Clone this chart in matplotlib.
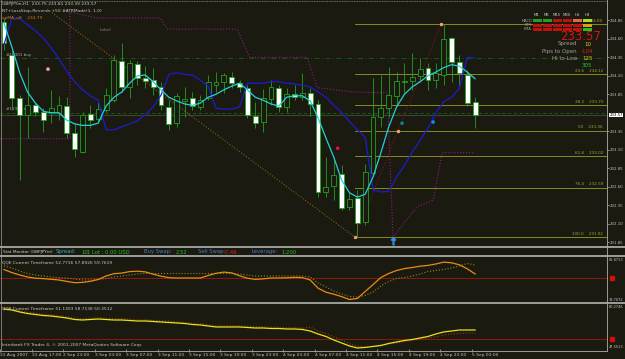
import numpy as np
import matplotlib.pyplot as plt
from matplotlib.lines import Line2D
from matplotlib.patches import Rectangle

# ---- data (GBPJPYm H1) ----
opens = [234.83, 234.38, 233.80, 233.57, 233.71, 233.61, 233.61, 233.60, 233.69, 233.33,
         233.07, 233.58, 233.52, 233.64, 233.77, 234.30, 233.95, 234.26, 234.07, 234.04,
         233.95, 233.68, 233.46, 233.76, 233.80, 233.68, 233.80, 233.98, 234.02, 234.08,
         234.00, 233.94, 233.56, 233.48, 233.79, 233.94, 233.68, 233.85, 233.81, 233.87,
         233.72, 232.53, 232.61, 232.77, 232.33, 232.45, 232.12, 232.79, 233.54, 233.66,
         233.83, 234.01, 234.03, 234.10, 234.21, 234.04, 234.11, 234.61, 234.29, 234.11, 233.75]
highs = [234.88, 234.45, 233.84, 234.22, 233.75, 233.67, 233.91, 233.83, 233.81, 233.46,
         233.61, 233.71, 233.77, 233.94, 234.38, 234.54, 234.31, 234.30, 234.23, 234.21,
         234.02, 233.77, 233.87, 233.95, 233.88, 233.84, 234.11, 234.15, 234.14, 234.15,
         234.04, 233.98, 233.75, 233.92, 234.04, 233.98, 233.94, 233.98, 234.14, 233.94,
         233.77, 233.00, 233.00, 232.89, 232.53, 232.56, 232.91, 234.07, 234.11, 234.22,
         234.15, 234.27, 234.41, 234.34, 234.27, 234.27, 234.80, 234.62, 234.38, 234.18, 233.81]
lows = [234.45, 233.64, 232.69, 233.26, 233.56, 233.34, 233.46, 233.50, 233.26, 233.00,
        233.06, 233.39, 233.48, 233.61, 233.75, 233.88, 233.80, 233.98, 233.94, 233.84,
        233.64, 233.37, 233.41, 233.54, 233.64, 233.64, 233.77, 233.88, 233.87, 233.94,
        233.88, 233.53, 233.39, 233.34, 233.71, 233.61, 233.61, 233.77, 233.77, 233.56,
        232.46, 232.46, 232.42, 232.29, 232.29, 231.92, 232.08, 232.76, 233.41, 233.54,
        233.69, 233.87, 233.91, 234.02, 233.91, 233.94, 233.98, 234.02, 233.98, 233.69, 233.39]
closes = [234.54, 233.80, 233.57, 233.71, 233.61, 233.50, 233.67, 233.71, 233.33, 233.11,
          233.57, 233.50, 233.65, 233.84, 234.31, 233.95, 234.27, 234.07, 234.03, 233.95,
          233.71, 233.45, 233.83, 233.79, 233.69, 233.77, 234.02, 234.02, 234.11, 234.00,
          233.95, 233.57, 233.46, 233.80, 233.95, 233.68, 233.85, 233.81, 233.87, 233.72,
          232.53, 232.60, 232.76, 232.31, 232.43, 232.11, 232.80, 233.54, 233.66, 233.84,
          234.03, 234.03, 234.08, 234.19, 234.04, 234.14, 234.60, 234.29, 234.14, 233.73, 233.57]

cyan_ma = [234.81, 234.49, 234.14, 233.88, 233.73, 233.62, 233.60, 233.60, 233.50, 233.45,
           233.43, 233.43, 233.46, 233.69, 233.81, 233.88, 234.00, 234.10, 234.11, 234.02,
           233.91, 233.81, 233.76, 233.72, 233.70, 233.73, 233.81, 233.85, 233.91, 233.96,
           234.00, 233.91, 233.81, 233.77, 233.72, 233.69, 233.81, 233.83, 233.83, 233.76,
           233.53, 233.26, 233.00, 232.69, 232.52, 232.46, 232.50, 232.73, 233.06, 233.41,
           233.68, 233.85, 233.95, 234.02, 234.10, 234.15, 234.21, 234.25, 234.23, 234.15, 234.06]
blue_ma = [234.52, 234.88, 234.87, 234.79, 234.71, 234.61, 234.48, 234.33, 234.16, 234.02,
           233.91, 233.83, 233.77, 233.37, 233.37, 233.41, 233.45, 233.49, 233.58, 233.68,
           233.84, 234.12, 234.14, 234.12, 234.11, 234.04, 233.96, 233.66, 233.65, 233.65,
           233.68, 234.00, 234.00, 234.00, 234.02, 234.02, 234.00, 233.99, 233.97, 233.95,
           233.88, 233.81, 233.70, 233.61, 233.48, 233.37, 233.27, 232.56, 232.53, 232.54,
           232.73, 232.89, 233.07, 233.23, 233.39, 233.60, 233.75, 233.81, 233.93, 234.35, 234.34]

# ATR stop (purple dotted), positions in bars
stop_x = [-0.5, 7.9, 8.4, 8.4, 11.85, 19.9, 20.8, 29.7, 31.3, 38.6, 39.9, 44.5, 48.8, 49.55, 52.6, 54.65, 55.8, 60.0]
stop_p = [233.25, 233.25, 233.25, 234.96, 234.88, 234.88, 234.73, 234.73, 234.35, 234.35,
          233.94, 233.88, 233.87, 231.92, 232.33, 232.42, 233.06, 233.06]

trend_x = [5.5, 44.7]
trend_p = [235.00, 231.92]
fib_x = [44.7, 50.2, 55.7]
fib_ends = [231.92, 233.36, 234.80]
fib_pct = ['0.0', '23.6', '38.2', '50', '61.8', '76.4', '100.0']
fib_p = [234.80, 234.12, 233.70, 233.36, 233.02, 232.59, 231.92]

buy_line = 234.34
sl_line = 233.60
bid = 233.57

dot_x = [5.6, 42.5, 50.7, 54.65]
dot_p = [234.19, 233.12, 233.46, 233.475]
dot_c = ['#ff9aae', '#e0103c', '#0f8080', '#1a86e8']

qqe1 = [55.89, 53.70, 51.96, 50.50, 49.63, 49.34, 48.83, 48.32, 47.30, 46.36,
        46.57, 47.37, 48.68, 51.23, 52.90, 53.34, 54.43, 54.72, 54.21, 52.54,
        51.08, 49.99, 49.77, 49.77, 49.77, 49.77, 51.59, 53.19, 54.07, 53.49,
        51.38, 49.63, 48.76, 49.12, 49.77, 49.77, 49.92, 50.21, 50.07, 48.32,
        42.35, 39.44, 37.99, 36.24, 34.13, 34.86, 39.95, 44.97, 50.14, 53.05,
        55.23, 56.61, 57.41, 58.36, 58.94, 59.96, 61.34, 60.83, 59.38, 56.47, 52.69]
qqe1_sig = [58.51, 57.05, 54.87, 53.05, 51.96, 51.23, 50.50, 50.14, 49.77, 49.05,
            48.32, 48.32, 48.68, 49.41, 50.50, 51.23, 51.96, 52.69, 53.05, 53.05,
            53.05, 53.05, 53.05, 53.05, 53.05, 53.05, 53.05, 53.05, 53.05, 53.05,
            52.69, 51.96, 51.23, 51.23, 51.23, 51.23, 51.23, 51.23, 51.23, 50.50,
            46.14, 43.23, 40.32, 38.14, 36.32, 35.95, 37.04, 39.59, 43.96, 47.23,
            49.41, 50.14, 51.23, 52.69, 54.50, 55.23, 55.96, 57.05, 58.51, 60.32, 59.23]
qqe2 = [59.64, 59.32, 58.69, 58.21, 57.89, 57.57, 57.41, 57.10, 56.78, 56.30,
        56.14, 56.30, 56.46, 56.30, 56.14, 56.14, 55.98, 55.82, 55.82, 55.67,
        55.51, 55.35, 55.19, 55.03, 54.71, 54.55, 54.23, 53.92, 53.92, 53.92,
        53.92, 53.76, 53.60, 53.60, 53.44, 53.44, 53.28, 53.28, 53.12, 52.64,
        51.69, 50.90, 49.78, 48.83, 47.87, 47.24, 47.40, 47.72, 48.03, 48.67,
        49.15, 49.62, 49.94, 50.42, 50.90, 51.69, 52.33, 52.64, 52.96, 52.96, 52.96]
qqe2_sig = [60.05, 59.70, 59.10, 58.60, 58.30, 57.95, 57.80, 57.50, 57.15, 56.70,
            56.55, 56.70, 56.85, 56.70, 56.55, 56.55, 56.40, 56.20, 56.20, 56.05,
            55.90, 55.75, 55.60, 55.40, 55.10, 54.95, 54.60, 54.30, 54.30, 54.30,
            54.30, 54.15, 54.00, 54.00, 53.85, 53.85, 53.70, 53.70, 53.50, 53.92,
            52.64, 51.85, 50.74, 49.78, 48.51, 47.87, 47.56, 47.72, 48.03, 48.51,
            48.83, 49.31, 49.62, 50.10, 50.42, 50.74, 51.37, 51.69, 51.85, 52.01, 52.01]

time_labels = ['31 Aug 2007', '31 Aug 17:00', '2 Sep 23:00', '3 Sep 03:00', '3 Sep 07:00',
               '3 Sep 11:00', '3 Sep 15:00', '3 Sep 19:00', '3 Sep 23:00', '4 Sep 03:00',
               '4 Sep 07:00', '4 Sep 11:00', '4 Sep 15:00', '4 Sep 19:00', '4 Sep 23:00',
               '5 Sep 03:00']
price_ticks = [234.85, 234.60, 234.35, 234.10, 233.85, 233.35, 233.10,
               232.85, 232.60, 232.35, 232.10, 231.85]

tf_names = ['M1', 'M5', 'M15', 'M30', 'H1', 'H4']
tf_rows = ['MACD', 'STR', 'EMA']
tf_colors = [['#22a022', '#c01010', '#c01010'],
             ['#22a022', '#c01010', '#c01010'],
             ['#c01010', '#c01010', '#c01010'],
             ['#c01010', '#c01010', '#c01010'],
             ['#e06a48', '#c01010', '#c01010'],
             ['#a8e020', '#e0a010', '#22c022']]

# ---- figure ----
bg = '#1b1a10'
W, H = 625, 359
fig = plt.figure(figsize=(6.25, 3.59), dpi=100, facecolor=bg)


def box(x0, y0, x1, y1):
    return [x0 / W, 1 - y1 / H, (x1 - x0) / W, (y1 - y0) / H]


def ftext(x, y, s, **kw):
    kw.setdefault('fontsize', 3.2)
    kw.setdefault('color', '#c8c8c8')
    kw.setdefault('va', 'center')
    fig.text(x / W, 1 - y / H, s, **kw)


def fline(x0, y0, x1, y1, **kw):
    fig.add_artist(Line2D([x0 / W, x1 / W], [1 - y0 / H, 1 - y1 / H], transform=fig.transFigure, **kw))


def style(a):
    a.set_facecolor(bg)
    for s in a.spines.values():
        s.set_visible(False)
    a.set_xlim(-0.51, 76.8)
    a.yaxis.tick_right()
    a.tick_params(axis='y', length=1.5, width=0.5, pad=0.6, colors='#c0c0c0', labelsize=2.8)
    a.tick_params(axis='x', bottom=False, labelbottom=False)


bars = np.arange(len(opens))
o = np.array(opens)
c = np.array(closes)

ax = fig.add_axes(box(0, 0, 607, 246))
style(ax)
ax.set_ylim(231.80, 235.124)
ax.set_yticks(price_ticks)
ax.set_yticklabels(['%.2f' % p for p in price_ticks])

# horizontal order / price lines
ax.axhline(buy_line, color='#0c6a0c', lw=0.6, ls=(0, (6, 3, 1, 3)))
ax.axhline(sl_line, color='#0c6a0c', lw=0.6, ls=(0, (4, 3)))
ax.axhline(bid, color='#4a4a44', lw=0.6)
ax.text(0.3, buy_line + 0.03, '#12301 buy', fontsize=3, color='#a8a8a8')
ax.text(0.3, sl_line + 0.04, '#12301 sl', fontsize=3, color='#a8a8a8')

# fibonacci
for pct, p in zip(fib_pct, fib_p):
    ax.plot([44.7, 76.8], [p, p], color='#9c9c22', lw=0.6)
    lab = '%.2f' % p if pct == '0.0' else '%s    %.2f' % (pct, p)
    ax.text(76.3, p + 0.015, lab, fontsize=3, color='#a0a040', ha='right', va='bottom')
ax.plot(fib_x, fib_ends, color='#8a1030', lw=0.7, ls=':')
ax.plot(fib_x, fib_ends, ls='none', marker='s', ms=1.3, color='#f0a070')

# trend line and stop line
ax.plot(trend_x, trend_p, color='#8a5a14', lw=0.8, ls=':')
ax.plot(stop_x, stop_p, color='#8c1c8c', lw=0.8, ls=':')

# candles
up = c >= o
ax.vlines(bars, lows, highs, color='#22a022', lw=0.6, zorder=3)
ax.bar(bars, np.maximum(np.abs(c - o), 0.01), bottom=np.minimum(o, c), width=0.62,
       color=np.where(up, bg, '#ffffff'), edgecolor='#22a022', lw=0.6, zorder=4)

# moving averages
ax.plot(bars, blue_ma, color='#1c1cd0', lw=0.9, zorder=5)
ax.plot(bars, cyan_ma, color='#22d0d8', lw=0.9, zorder=5)

ax.scatter(dot_x, dot_p, s=7, c=dot_c, zorder=6, linewidths=0)
ax.plot(49.55, 231.87, marker=r'$\uparrow$', ms=5, color='#3090e0', zorder=6)
ax.text(12.2, 234.72, 'Label', fontsize=3.2, color='#7a7a7a', va='center')

# current price label
ax.text(1.004, bid, '%.2f' % bid, transform=ax.get_yaxis_transform(), fontsize=2.8,
        color='#000000', va='center', ha='left',
        bbox=dict(boxstyle='square,pad=0.1', fc='#ffffff', ec='#ffffff', lw=0))

# ---- indicator panels ----
ax1 = fig.add_axes(box(0, 257, 607, 302))
style(ax1)
ax1.set_ylim(32.31, 65.05)
ax1.set_yticks([])
ax1.axhline(50, color='#8a1c0c', lw=0.7)
ax1.plot(bars, qqe1_sig, color='#8a8a22', lw=0.8, ls=':')
ax1.plot(bars, qqe1, color='#e88c14', lw=0.9)
ax1.plot([1.008], [50], transform=ax1.get_yaxis_transform(), marker='s', ms=3,
         color='#d01010', clip_on=False)

ax2 = fig.add_axes(box(0, 304, 607, 349))
style(ax2)
ax2.set_ylim(46.91, 61.23)
ax2.set_yticks([])
ax2.axhline(50, color='#8a1c0c', lw=0.7)
ax2.plot(bars, qqe2_sig, color='#a03c14', lw=0.8, ls=':')
ax2.plot(bars, qqe2, color='#e4e41c', lw=0.9)
ax2.plot([1.008], [50], transform=ax2.get_yaxis_transform(), marker='s', ms=3,
         color='#d01010', clip_on=False)
ax2.tick_params(axis='x', bottom=True, labelbottom=True, length=2, width=0.5, pad=1,
                colors='#c0c0c0', labelsize=3.2)
ax2.set_xticks(bars[::4] - 0.45)
ax2.set_xticklabels(time_labels, ha='left')

# separators and frame
fline(0, 1, 607, 1, color='#8a8a8a', lw=0.6, ls=(0, (1, 1)))
fline(1, 0, 1, 350, color='#8a8a8a', lw=0.6)
fline(607, 0, 607, 351, color='#9a9a9a', lw=0.7)
for yy in (247, 256, 303):
    fline(0, yy, 625, yy, color='#a8a8a8', lw=1.3)
fline(0, 350.5, 607, 350.5, color='#9a9a9a', lw=0.7)

# top-left captions
ftext(2, 3.5, 'GBPJPYm,H1  233.75 233.81 233.39 233.57')
ftext(2, 11, 'NT+LossStop-Reverse +50 #ATRMode(1, 1.0)')
ftext(2, 18.5, 'xpMA_v8    234.79', color='#c87a18')

# stat monitor line
stat_parts = [(3, 'Stat Monitor (GBPJPYm)', '#d0d0d0', 3.1), (56, 'Spread:', '#30b0b8', 3.8),
              (81, '10', '#20c020', 3.8), (87, '1 Lot : 0.00 USD', '#20c020', 3.8),
              (144, 'Buy Swap:', '#4a7cc8', 3.8), (176, '2.52', '#20c020', 3.8),
              (198, 'Sell Swap:', '#4a7cc8', 3.8), (224, '-7.46', '#e02020', 3.8),
              (252, 'Leverage:', '#4a7cc8', 3.8), (281, '1:200', '#20c020', 3.8)]
for x, s, col, fs in stat_parts:
    ftext(x, 252, s, color=col, fontsize=fs)

ftext(2, 262, 'QQE Current Timeframe 52.7736 57.8926 59.7619')
ftext(2, 308, 'QQE Current Timeframe 51.1303 58.7138 50.3512')
ftext(2, 345, 'Interbank FX Trader 4, \u00a9 2001-2007 MetaQuotes Software Corp.')
for yy, s in ((260, '62.8713'), (300, '33.7672'), (307, '60.2746'), (347, '47.5513')):
    ftext(609, yy, s, fontsize=2.5)

# multi-timeframe signal table, top right
col_x = [533, 543, 553, 563, 573, 583]
row_y = [19, 23.5, 28]
for j, name in enumerate(tf_names):
    ftext(col_x[j] + 4, 15.5, name, ha='center', fontsize=2.8)
    for k in range(3):
        fig.add_artist(Rectangle((col_x[j] / W, 1 - (row_y[k] + 3) / H), 8.5 / W, 3 / H,
                                 transform=fig.transFigure, color=tf_colors[j][k], lw=0))
for k, name in enumerate(tf_rows):
    ftext(532, row_y[k] + 1.5, name, ha='right', fontsize=2.6, color='#a0a0a0')

ftext(581, 36.5, '233.57', color='#d81414', fontsize=8.5, ha='center')
ftext(577, 44, 'Spread', color='#a0a0a0', fontsize=4, ha='right')
ftext(584, 44, '10', color='#e8c81c', fontsize=4)
ftext(577, 51.5, 'Pips to Open', color='#a0a0a0', fontsize=4, ha='right')
ftext(581, 51.5, '-104', color='#e02020', fontsize=4)
ftext(577, 58.5, 'Hi to Low', color='#a0a0a0', fontsize=4, ha='right')
ftext(582, 58.5, '125', color='#e8c81c', fontsize=4)
ftext(582, 65.5, '305', color='#22d022', fontsize=4)

fig.savefig('out.png', dpi=100, facecolor=bg)
